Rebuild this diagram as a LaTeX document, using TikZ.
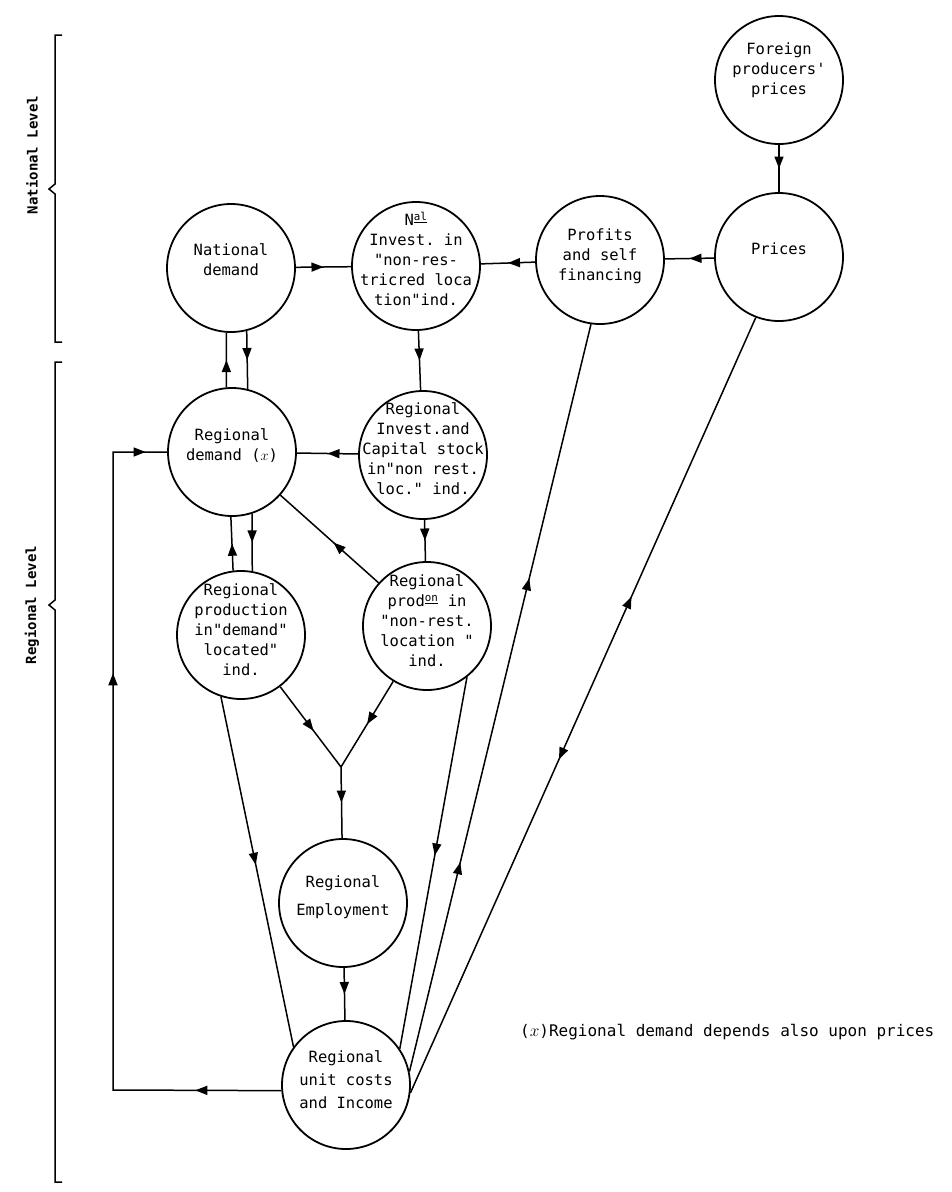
\documentclass[tikz,border=0pt]{standalone}
\usepackage{fontspec}
\setmonofont{DejaVu Sans Mono}
\usetikzlibrary{arrows.meta,decorations.markings,positioning}
\newcommand{\ctext}[2][0pt]{\makebox[0pt]{\raisebox{#1}{\smash{\begin{tabular}{@{}c@{}}#2\end{tabular}}}}}

\begin{document}
\begin{tikzpicture}[x=1pt,y=-1pt,node distance=177pt,
  flow/.style={postaction={decorate,decoration={markings,
    mark=at position #1 with {\arrow{Triangle[length=12pt,width=9pt]}}}}},
  flow/.default=0.5,
  back/.style={postaction={decorate,decoration={markings,
    mark=at position #1 with {\arrowreversed{Triangle[length=12pt,width=9pt]}}}}}]
  \tikzstyle{circ}=[draw, circle, line width=1.8pt, minimum size=128pt, inner sep=0pt,
                    font=\ttfamily\fontsize{15.5}{20}\selectfont]
  \tikzstyle{link}=[line width=1.5pt]
  \tikzstyle{level}=[font=\ttfamily\bfseries\fontsize{14}{16}\selectfont, rotate=90]
  \tikzstyle{note}=[font=\ttfamily\fontsize{16}{18}\selectfont, anchor=west, inner sep=0pt]
  \useasboundingbox (0,0) rectangle (951,1192);

  % national level
  \node[circ] (foreign) at (779,80) {\ctext[12pt]{Foreign\\producers'\\prices}};
  \node[circ] (prices) [below of=foreign] {\ctext[6pt]{Prices}};
  \node[circ] (profits) at (600,260) {\ctext{Profits\\and self\\financing}};
  \node[circ] (invest) at (416,266) {\ctext[1pt]{N\textsuperscript{\underline{al}}\\Invest. in\\"non-res-\\tricred loca\\tion"ind.}};
  \node[circ] (natdem) at (231,268) {\ctext[6pt]{National\\demand}};

  % regional level
  \node[circ] (regdem) at (232,452) {\ctext[4pt]{Regional\\demand ($x$)}};
  \node[circ] (reginv) at (423,455) {\ctext[1pt]{Regional\\Invest.and\\Capital stock\\in"non rest.\\loc." ind.}};
  \node[circ] (regprod) at (241,635) {\ctext{Regional\\production\\in"demand"\\located"\\ind.}};
  \node[circ] (regnr) at (427,626) {\ctext{Regional\\prod\textsuperscript{\underline{on}} in\\"non-rest.\\location "\\ind.}};
  \node[circ] (employ) at (343,903) {\ctext[4pt]{Regional\\[8pt]Employment}};
  \node[circ] (costs) at (346,1085) {\ctext{Regional\\[3pt]unit costs\\[3pt]and Income}};

  \coordinate (fork) at (341,767);
  \coordinate (lb) at (113,1090);
  \coordinate (lt) at (113,452);

  \foreach \a/\b in {foreign/prices,prices/profits,profits/invest,natdem/invest,
                     invest/reginv,reginv/regdem,reginv/regnr,fork/employ,employ/costs}{
    \draw[link,flow] (\a) -- (\b);
  }

  \draw[link,flow] (regdem.95) -- (natdem.266);
  \draw[link,flow] (natdem.284) -- (regdem.76);
  \draw[link,flow] (regprod.97) -- (regdem.269);
  \draw[link,flow] (regdem.288) -- (regprod.80);
  \draw[link,flow=0.46] (regnr) -- (regdem);

  \draw[link,flow=0.55] (regprod) -- (fork);
  \draw[link,flow] (regnr) -- (fork);

  \draw[link,flow=0.1,flow=0.68,flow=0.975] (costs.185) -- (lb) -- (lt) -- (regdem);
  \draw[link,flow=0.48] (regprod.252) -- (costs.144);
  \draw[link,flow=0.48] (regnr.308) -- (costs.34);
  \draw[link,flow=0.28,flow=0.66] (costs.12) -- (profits.262);
  \draw[link,back=0.36,flow=0.57] (prices.249) -- (costs.353);

  \node[note] (remark) at (520,1032) {($x$)Regional demand depends also upon prices};

  % level brackets
  \node[level] (natlev) at (32,155) {National Level};
  \node[level] (reglev) at (32,605) {Regional Level};
  \draw[link] (62,35) -- (55,35) -- (55,184) -- (49,189) -- (55,194) -- (55,342) -- (62,342);
  \draw[link] (62,362) -- (55,362) -- (55,600) -- (49,605) -- (55,610) -- (55,1182) -- (62,1182);
\end{tikzpicture}
\end{document}
